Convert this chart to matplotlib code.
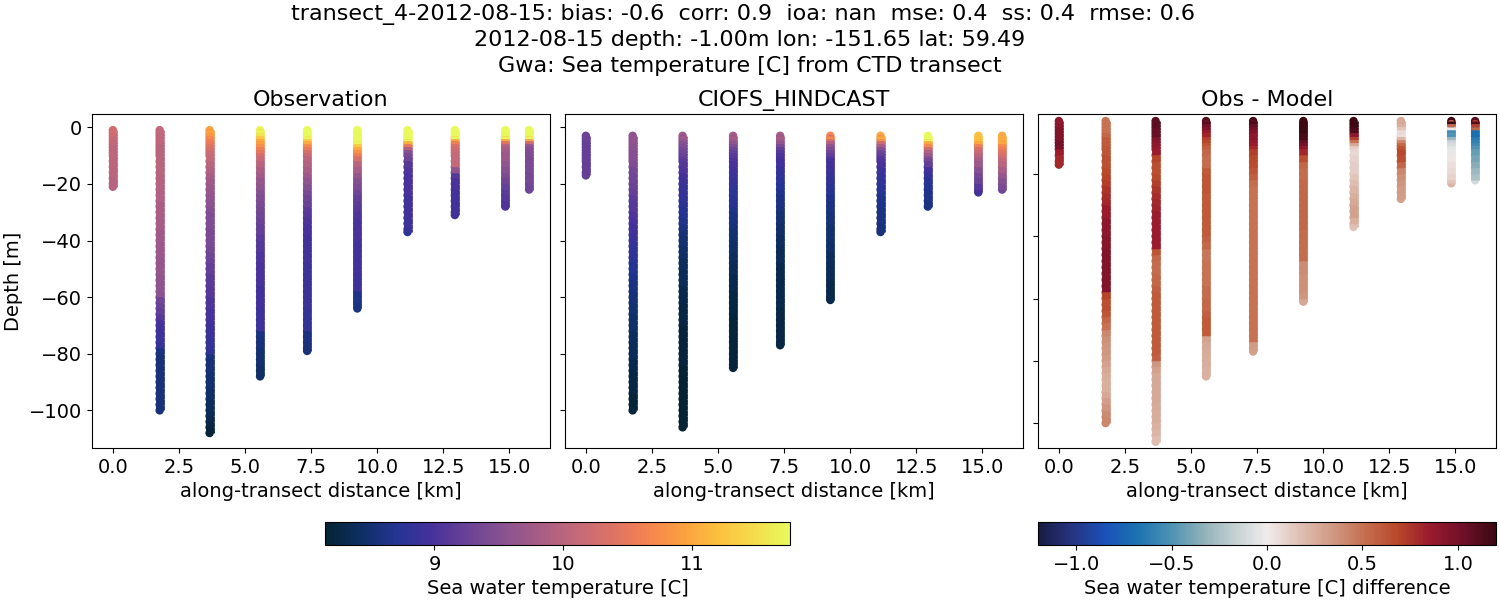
'''
Observed vs modelled sea temperature along a CTD transect
'''
import numpy as np
import matplotlib as mpl
mpl.use("Agg")
import matplotlib.pyplot as plt
from matplotlib.collections import LineCollection
from matplotlib.colors import LinearSegmentedColormap, Normalize

mpl.rcParams['font.size'] = 14

# along-transect position of each cast [km]
cast_km = [0.0, 1.77, 3.66, 5.57, 7.35, 9.25, 11.15, 12.94, 14.85, 15.75]

# sampled depths: every metre near the surface, then every 2 m
obs_levels = [1, 2, 3, 4, 5, 6, 7, 8, 9, 10] + list(range(12, 112, 2))
model_levels = [3, 4, 5, 6, 7, 8, 9, 10, 11, 12] + list(range(14, 114, 2))

# deepest reading of each cast [m]
obs_bottom = [21, 100, 108, 88, 79, 64, 37, 31, 28, 22]
model_bottom = [17, 100, 106, 85, 77, 61, 37, 28, 23, 22]

obs_temp = [
    [10.25, 10.2, 10.15, 10.1, 10.1, 10.05, 10.05, 10.05, 10.05, 10.05,
     10.05, 10.0, 10.0, 9.95, 9.95, 9.95],
    [10.1, 10.05, 10.05, 10.05, 10.05, 10.0, 10.0, 10.0, 10.0, 10.0,
     10.0, 10.0, 9.95, 9.95, 9.95, 9.9, 9.9, 9.85, 9.85, 9.85,
     9.8, 9.8, 9.75, 9.75, 9.7, 9.7, 9.7, 9.65, 9.65, 9.65,
     9.6, 9.6, 9.6, 9.55, 9.3, 9.25, 9.2, 9.1, 9.0, 8.95,
     8.9, 8.9, 8.85, 8.6, 8.55, 8.55, 8.55, 8.55, 8.55, 8.55,
     8.55, 8.55, 8.55, 8.55, 8.55],
    [10.95, 10.85, 10.7, 10.6, 10.5, 10.4, 10.3, 10.2, 10.15, 10.1,
     10.0, 9.9, 9.8, 9.75, 9.7, 9.65, 9.6, 9.55, 9.5, 9.45,
     9.45, 9.45, 9.4, 9.4, 9.4, 9.35, 9.3, 9.25, 9.2, 9.2,
     9.15, 9.15, 9.1, 9.1, 9.05, 9.05, 9.0, 9.0, 8.95, 8.9,
     8.9, 8.85, 8.85, 8.8, 8.6, 8.55, 8.55, 8.5, 8.5, 8.5,
     8.45, 8.45, 8.4, 8.4, 8.35, 8.3, 8.25, 8.2, 8.2],
    [11.7, 11.55, 11.3, 11.0, 10.9, 10.75, 10.6, 10.45, 10.3, 10.15,
     10.0, 9.85, 9.75, 9.65, 9.6, 9.5, 9.45, 9.4, 9.35, 9.3,
     9.25, 9.2, 9.2, 9.15, 9.1, 9.1, 9.05, 9.05, 9.0, 9.0,
     9.0, 9.0, 8.95, 8.95, 8.95, 8.95, 8.9, 8.9, 8.9, 8.9,
     8.6, 8.55, 8.55, 8.5, 8.5, 8.5, 8.45, 8.45, 8.45],
    [11.75, 11.75, 11.7, 11.3, 11.0, 10.7, 10.5, 10.3, 10.15, 10.0,
     9.9, 9.8, 9.7, 9.6, 9.5, 9.4, 9.3, 9.25, 9.15, 9.1,
     9.05, 9.0, 9.0, 8.95, 8.95, 8.95, 8.95, 8.95, 8.9, 8.9,
     8.9, 8.9, 8.9, 8.9, 8.9, 8.9, 8.85, 8.85, 8.85, 8.85,
     8.6, 8.6, 8.55, 8.55, 8.55],
    [11.75, 11.75, 11.75, 11.75, 11.7, 11.3, 11.0, 10.8, 10.6, 10.3,
     10.0, 9.8, 9.65, 9.5, 9.4, 9.3, 9.2, 9.15, 9.1, 9.05,
     9.0, 9.0, 9.0, 9.0, 8.95, 8.95, 8.95, 8.95, 8.95, 8.95,
     8.9, 8.9, 8.9, 8.65, 8.65, 8.6, 8.6],
    [11.75, 11.75, 11.75, 11.75, 11.1, 10.5, 9.9, 9.5, 9.4, 9.3,
     9.1, 9.05, 9.0, 9.0, 9.0, 9.0, 8.95, 8.95, 8.95, 8.95,
     8.9, 8.9, 8.85, 8.75],
    [11.75, 11.75, 11.75, 11.0, 10.6, 10.3, 10.2, 10.15, 10.1, 10.1,
     10.1, 9.6, 9.1, 9.0, 9.0, 8.95, 8.95, 8.95, 8.95, 8.95,
     8.95],
    [11.75, 11.75, 11.7, 11.0, 10.4, 9.9, 9.8, 9.75, 9.7, 9.7,
     9.6, 9.5, 9.4, 9.3, 9.2, 9.15, 9.1, 9.05, 9.05],
    [11.75, 11.75, 11.7, 11.0, 10.2, 9.6, 9.5, 9.45, 9.45, 9.4,
     9.4, 9.4, 9.35, 9.35, 9.3, 9.3],
]

model_temp = [
    [9.25, 9.25, 9.2, 9.2, 9.2, 9.2, 9.2, 9.2, 9.2, 9.2,
     9.2, 9.2, 9.2],
    [9.6, 9.6, 9.6, 9.55, 9.55, 9.5, 9.5, 9.5, 9.5, 9.45,
     9.35, 9.3, 9.3, 9.25, 9.2, 9.15, 9.1, 9.1, 9.05, 9.0,
     8.95, 8.95, 8.9, 8.85, 8.8, 8.8, 8.75, 8.7, 8.7, 8.65,
     8.6, 8.6, 8.55, 8.55, 8.5, 8.5, 8.45, 8.45, 8.45, 8.4,
     8.4, 8.35, 8.35, 8.35, 8.3, 8.3, 8.25, 8.25, 8.25, 8.25,
     8.2, 8.2, 8.2, 8.2],
    [9.75, 9.6, 9.5, 9.45, 9.35, 9.3, 9.25, 9.2, 9.15, 9.1,
     9.05, 8.95, 8.9, 8.85, 8.85, 8.8, 8.75, 8.7, 8.7, 8.65,
     8.6, 8.55, 8.5, 8.5, 8.45, 8.45, 8.4, 8.4, 8.35, 8.35,
     8.35, 8.3, 8.3, 8.3, 8.25, 8.25, 8.25, 8.25, 8.2, 8.2,
     8.2, 8.2, 8.2, 8.2, 8.2, 8.15, 8.15, 8.15, 8.15, 8.15,
     8.15, 8.15, 8.15, 8.15, 8.15, 8.15, 8.15],
    [9.8, 9.7, 9.6, 9.45, 9.3, 9.2, 9.15, 9.1, 9.05, 9.0,
     8.95, 8.9, 8.85, 8.8, 8.75, 8.7, 8.7, 8.65, 8.6, 8.6,
     8.55, 8.5, 8.5, 8.45, 8.45, 8.4, 8.4, 8.35, 8.35, 8.3,
     8.3, 8.3, 8.25, 8.25, 8.25, 8.25, 8.2, 8.2, 8.2, 8.2,
     8.2, 8.2, 8.2, 8.2, 8.2, 8.2, 8.2],
    [9.8, 9.7, 9.6, 9.4, 9.2, 9.1, 9.05, 9.0, 8.95, 8.95,
     8.85, 8.8, 8.75, 8.7, 8.65, 8.6, 8.6, 8.55, 8.5, 8.5,
     8.45, 8.45, 8.4, 8.4, 8.35, 8.35, 8.35, 8.3, 8.3, 8.3,
     8.3, 8.3, 8.3, 8.3, 8.3, 8.25, 8.25, 8.25, 8.25, 8.25,
     8.25, 8.25, 8.25],
    [10.7, 10.3, 9.9, 9.6, 9.45, 9.3, 9.2, 9.1, 9.0, 8.95,
     8.9, 8.85, 8.8, 8.75, 8.7, 8.65, 8.6, 8.6, 8.55, 8.55,
     8.5, 8.5, 8.5, 8.45, 8.45, 8.4, 8.4, 8.35, 8.35, 8.35,
     8.3, 8.3, 8.3, 8.3, 8.3],
    [11.0, 10.8, 10.2, 9.8, 9.5, 9.3, 9.2, 9.1, 9.05, 9.0,
     8.9, 8.85, 8.8, 8.75, 8.7, 8.65, 8.65, 8.6, 8.6, 8.6,
     8.55, 8.55, 8.55],
    [11.75, 11.75, 11.0, 10.7, 10.2, 9.9, 9.7, 9.5, 9.35, 9.2,
     8.95, 8.85, 8.75, 8.7, 8.65, 8.65, 8.6, 8.6],
    [11.2, 11.2, 11.0, 10.6, 10.3, 10.15, 10.0, 9.9, 9.8, 9.7,
     9.5, 9.35, 9.25, 9.1, 9.0, 8.95],
    [11.0, 11.0, 11.0, 10.7, 10.55, 10.4, 10.3, 10.2, 10.1, 10.0,
     9.8, 9.65, 9.5, 9.4, 9.3],
]

diff_temp = [
    [0.9, 0.9, 0.95, 0.95, 0.95, 0.95, 1.0, 1.0, 1.0, 0.85,
     0.8, 0.8, 0.8],
    [0.5, 0.5, 0.5, 0.5, 0.55, 0.6, 0.6, 0.6, 0.62, 0.62,
     0.65, 0.65, 0.68, 0.7, 0.72, 0.75, 0.78, 0.8, 0.85, 0.85,
     0.9, 0.9, 0.9, 0.92, 0.92, 0.95, 0.95, 0.95, 0.95, 0.95,
     0.95, 0.95, 0.7, 0.65, 0.65, 0.62, 0.55, 0.5, 0.42, 0.38,
     0.36, 0.35, 0.33, 0.3, 0.28, 0.26, 0.25, 0.25, 0.28, 0.32,
     0.36, 0.4, 0.42, 0.42],
    [1.08, 1.08, 1.05, 1.05, 1.05, 0.95, 0.92, 0.9, 0.88, 0.85,
     0.7, 0.65, 0.65, 0.68, 0.72, 0.75, 0.78, 0.8, 0.82, 0.85,
     0.85, 0.85, 0.85, 0.85, 0.85, 0.62, 0.55, 0.52, 0.52, 0.55,
     0.55, 0.58, 0.6, 0.6, 0.6, 0.6, 0.6, 0.6, 0.6, 0.6,
     0.6, 0.6, 0.58, 0.35, 0.3, 0.28, 0.28, 0.28, 0.28, 0.28,
     0.27, 0.26, 0.26, 0.24, 0.22, 0.18, 0.18],
    [1.1, 1.0, 0.95, 0.88, 0.82, 0.72, 0.68, 0.62, 0.58, 0.55,
     0.52, 0.52, 0.6, 0.62, 0.62, 0.62, 0.6, 0.6, 0.6, 0.6,
     0.6, 0.6, 0.6, 0.58, 0.55, 0.48, 0.48, 0.5, 0.5, 0.5,
     0.5, 0.52, 0.52, 0.55, 0.55, 0.58, 0.6, 0.6, 0.6, 0.3,
     0.28, 0.27, 0.26, 0.26, 0.24, 0.24, 0.24],
    [1.15, 1.05, 1.0, 0.95, 0.9, 0.9, 0.88, 0.85, 0.8, 0.72,
     0.68, 0.66, 0.62, 0.58, 0.52, 0.5, 0.5, 0.5, 0.5, 0.5,
     0.5, 0.5, 0.5, 0.5, 0.5, 0.5, 0.5, 0.5, 0.5, 0.5,
     0.5, 0.5, 0.5, 0.5, 0.5, 0.5, 0.5, 0.5, 0.5, 0.5,
     0.33, 0.32, 0.3],
    [1.2, 1.2, 1.2, 1.2, 1.15, 1.15, 1.05, 1.0, 0.9, 0.8,
     0.65, 0.55, 0.52, 0.52, 0.54, 0.55, 0.55, 0.55, 0.55, 0.55,
     0.55, 0.55, 0.52, 0.52, 0.52, 0.52, 0.52, 0.4, 0.4, 0.38,
     0.38, 0.38, 0.36, 0.28, 0.28],
    [1.2, 1.2, 1.15, 1.15, 0.9, 0.72, 0.5, 0.28, 0.12, 0.08,
     0.1, 0.12, 0.12, 0.15, 0.18, 0.22, 0.25, 0.28, 0.3, 0.3,
     0.25, 0.18, 0.16],
    [0.28, 0.25, 0.15, 0.06, 0.05, 0.2, 0.42, 0.55, 0.62, 0.68,
     0.65, 0.55, 0.42, 0.38, 0.35, 0.33, 0.32, 0.3],
    [1.2, 0.55, 0.02, -0.55, -0.5, -0.3, -0.15, -0.1, -0.05, -0.03,
     0.02, 0.05, 0.07, 0.1, 0.15, 0.22],
    [1.1, 0.7, 0.55, -0.7, -0.7, -0.62, -0.6, -0.55, -0.5, -0.45,
     -0.4, -0.35, -0.3, -0.25, -0.12],
]

thermal = LinearSegmentedColormap.from_list("thermal", [
    "#042333", "#0e2f64", "#253494", "#47319b", "#6b4396", "#8a5290",
    "#a85d85", "#c3697a", "#dc7265", "#f58350", "#fb9f40", "#fbc03f",
    "#f5dc4c", "#e8fa5b"])
balance = LinearSegmentedColormap.from_list("balance", [
    "#181c43", "#26337f", "#1a50b8", "#1a72b0", "#4a90b4", "#8db0b8",
    "#c4d0d2", "#f1ecec", "#e0c0b4", "#d09a84", "#c56f50", "#b9482a",
    "#9a1a2d", "#6e1028", "#3c0912"])

TEMP_MIN, TEMP_MAX = 8.15, 11.76
DIFF_LIM = 1.2


def add_axes_px(fig, left, right, top, bottom):
    return fig.add_axes([left / 1500, 1 - bottom / 600,
                         (right - left) / 1500, (bottom - top) / 600])


def draw_casts(ax, casts, levels, bottoms, cmap, vmin, vmax):
    norm = Normalize(vmin, vmax)
    for km, temps, bottom in zip(cast_km, casts, bottoms):
        depths = np.array(levels[:len(temps)], dtype=float)
        depths[-1] = bottom
        # the readings are 2 m apart at depth, close the gaps between the dots
        segs = [[(km, -a), (km, -b)] for a, b in zip(depths[:-1], depths[1:])]
        ax.add_collection(LineCollection(segs, array=np.array(temps[:-1]), cmap=cmap,
                                         norm=norm, linewidths=6.3, capstyle='butt'))
        sc = ax.scatter(np.full(len(temps), km), -depths, c=temps, s=37, linewidths=0,
                        cmap=cmap, norm=norm)
    ax.set_xlim(-0.79, 16.54)
    ax.set_xlabel("along-transect distance [km]")
    return sc


if __name__ == "__main__":
    fig = plt.figure(figsize=(15, 6), dpi=100)
    ax1 = add_axes_px(fig, 92, 550, 114, 448)
    ax2 = add_axes_px(fig, 565, 1023, 114, 448)
    ax3 = add_axes_px(fig, 1038, 1496, 114, 448)

    sc1 = draw_casts(ax1, obs_temp, obs_levels, obs_bottom, thermal, TEMP_MIN, TEMP_MAX)
    draw_casts(ax2, model_temp, model_levels, model_bottom, thermal, TEMP_MIN, TEMP_MAX)
    sc3 = draw_casts(ax3, diff_temp, model_levels, model_bottom, balance, -DIFF_LIM, DIFF_LIM)

    ax1.set_ylim(-113.3, 4.7)
    ax2.set_ylim(-113.3, 4.7)
    ax3.set_ylim(-108, -0.74)
    ax1.set_ylabel("Depth [m]")
    ax2.tick_params(labelleft=False)
    ax3.tick_params(labelleft=False)
    ax1.set_title("Observation", fontsize=16)
    ax2.set_title("CIOFS_HINDCAST", fontsize=16)
    ax3.set_title("Obs - Model", fontsize=16)

    fig.suptitle("transect_4-2012-08-15: bias: -0.6  corr: 0.9  ioa: nan  mse: 0.4  ss: 0.4  rmse: 0.6  \n"
                 "2012-08-15 depth: -1.00m lon: -151.65 lat: 59.49\n"
                 "Gwa: Sea temperature [C] from CTD transect",
                 x=0.5, y=0.993, fontsize=16, linespacing=1.33)

    cax1 = add_axes_px(fig, 325, 790, 522, 545)
    cb1 = fig.colorbar(sc1, cax=cax1, orientation='horizontal')
    cb1.set_label("Sea water temperature [C]")
    cb1.set_ticks([9, 10, 11])

    cax2 = add_axes_px(fig, 1038, 1496, 522, 545)
    cb2 = fig.colorbar(sc3, cax=cax2, orientation='horizontal')
    cb2.set_label("Sea water temperature [C] difference")
    cb2.set_ticks([-1.0, -0.5, 0.0, 0.5, 1.0])

    fig.savefig("out.png", dpi=100)
